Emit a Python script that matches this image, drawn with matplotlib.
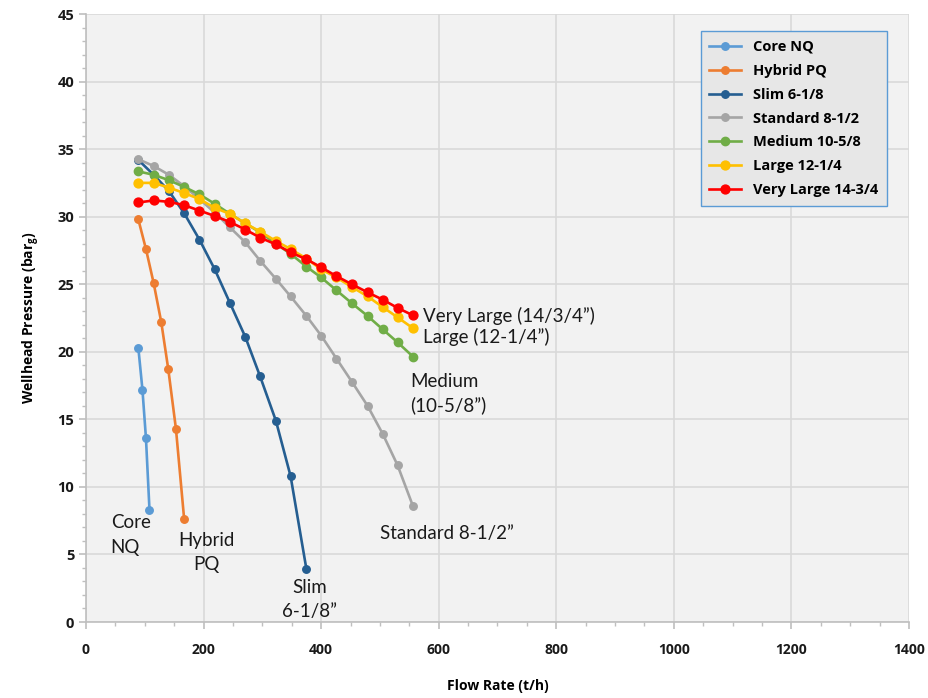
import matplotlib
matplotlib.use('Agg')
import matplotlib.pyplot as plt
from matplotlib.ticker import MultipleLocator

# Flow rate (t/h) vs wellhead pressure (bar g)
core_x = [89, 96, 102, 108]
core_y = [20.3, 17.2, 13.6, 8.3]

hybrid_x = [89, 102, 115, 128, 140, 153, 167]
hybrid_y = [29.8, 27.6, 25.1, 22.2, 18.7, 14.3, 7.6]

slim_x = [89, 115, 141, 167, 193, 219, 245, 271, 296, 323, 348, 375]
slim_y = [34.2, 33.1, 31.9, 30.25, 28.3, 26.1, 23.6, 21.1, 18.2, 14.9, 10.8, 3.9]

big_x = [89, 115, 141, 167, 193, 219, 245, 271, 296, 323, 348, 375,
         400, 426, 452, 479, 505, 530, 556]
standard_y = [34.25, 33.75, 33.1, 32.25, 31.3, 30.3, 29.2, 28.1, 26.75, 25.4,
              24.1, 22.65, 21.2, 19.5, 17.8, 16.0, 13.9, 11.6, 8.6]
medium_y = [33.35, 33.1, 32.7, 32.2, 31.65, 30.95, 30.2, 29.5, 28.85, 28.0,
            27.25, 26.3, 25.5, 24.55, 23.6, 22.65, 21.65, 20.7, 19.65]
large_y = [32.5, 32.5, 32.15, 31.75, 31.3, 30.65, 30.2, 29.5, 28.9, 28.2,
           27.6, 26.9, 26.1, 25.5, 24.8, 24.1, 23.3, 22.55, 21.75]
vlarge_y = [31.05, 31.2, 31.1, 30.85, 30.45, 30.05, 29.6, 29.05, 28.45, 27.95,
            27.35, 26.85, 26.25, 25.6, 25.0, 24.4, 23.85, 23.25, 22.7]

series = [
    ('Core NQ', core_x, core_y, '#5b9bd5', 5.4),
    ('Hybrid PQ', hybrid_x, hybrid_y, '#ed7d31', 5.4),
    ('Slim 6-1/8', slim_x, slim_y, '#255e91', 5.4),
    ('Standard 8-1/2', big_x, standard_y, '#a5a5a5', 5.4),
    ('Medium 10-5/8', big_x, medium_y, '#70ad47', 6.0),
    ('Large 12-1/4', big_x, large_y, '#ffc000', 6.4),
    ('Very Large 14-3/4', big_x, vlarge_y, '#ff0000', 6.4),
]

plt.rcParams['font.family'] = ['Open Sans', 'DejaVu Sans']
plt.rcParams['mathtext.default'] = 'regular'

fig = plt.figure(figsize=(9.29, 6.98), dpi=100)
ax = fig.add_axes([86 / 929, 76 / 698, 823 / 929, 608 / 698])
ax.set_facecolor('#f2f2f2')

for name, xs, ys, col, ms in series:
    ax.plot(xs, ys, '-o', color=col, lw=1.9, ms=ms, label=name)

ax.set_xlim(0, 1400)
ax.set_ylim(0, 45)
ax.xaxis.set_major_locator(MultipleLocator(200))
ax.xaxis.set_minor_locator(MultipleLocator(50))
ax.yaxis.set_major_locator(MultipleLocator(5))
ax.yaxis.set_minor_locator(MultipleLocator(1))
ax.grid(True, which='major', color='#d9d9d9', lw=1.2)
ax.set_axisbelow(True)
for s in ['top', 'right']:
    ax.spines[s].set_visible(False)
for s in ['left', 'bottom']:
    ax.spines[s].set_color('#bfbfbf')
    ax.spines[s].set_linewidth(1.2)
ax.tick_params(which='major', length=5, color='#bfbfbf', width=1.2)
ax.tick_params(which='minor', length=3, color='#bfbfbf', width=1)
ax.tick_params(axis='x', pad=10)
for lab in ax.get_xticklabels():
    lab.set_fontweight('bold')
    lab.set_fontsize(10)
    lab.set_color('#1a1a1a')
for lab in ax.get_yticklabels():
    lab.set_fontweight('bold')
    lab.set_fontsize(10.5)
    lab.set_color('#1a1a1a')

ax.set_xlabel('Flow Rate (t/h)', fontsize=10, fontweight='bold', labelpad=16)
ax.set_ylabel('Wellhead Pressure (bar$_{g}$)', fontsize=10, fontweight='bold', labelpad=11)

leg = ax.legend(loc='upper right', bbox_to_anchor=(0.9733, 0.972), borderaxespad=0,
                prop={'weight': 'bold', 'size': 10.5}, frameon=True, fancybox=False,
                handlelength=2.2, labelspacing=0.68, borderpad=0.6)
leg.get_frame().set_facecolor('#e7e7e7')
leg.get_frame().set_edgecolor('#5b9bd5')
leg.get_frame().set_alpha(1)
leg.get_frame().set_linewidth(1)

lbl = dict(fontsize=13.5, family='Lato', color='#1a1a1a', va='baseline')
ax.text(42, 6.98, 'Core', ha='left', **lbl)
ax.text(42, 5.08, 'NQ', ha='left', **lbl)
ax.text(205, 5.63, 'Hybrid', ha='center', **lbl)
ax.text(205, 3.85, 'PQ', ha='center', **lbl)
ax.text(380, 2.12, 'Slim', ha='center', **lbl)
ax.text(380, 0.35, '6-1/8\u201d', ha='center', **lbl)
ax.text(500, 6.14, 'Standard 8-1/2\u201d', ha='left', **lbl)
ax.text(551, 17.37, 'Medium', ha='left', **lbl)
ax.text(551, 15.57, '(10-5/8\u201d)', ha='left', **lbl)
ax.text(573, 20.63, 'Large (12-1/4\u201d)', ha='left', **lbl)
ax.text(573, 22.23, 'Very Large (14/3/4\u201d)', ha='left', **lbl)

fig.savefig('out.png', dpi=100)
